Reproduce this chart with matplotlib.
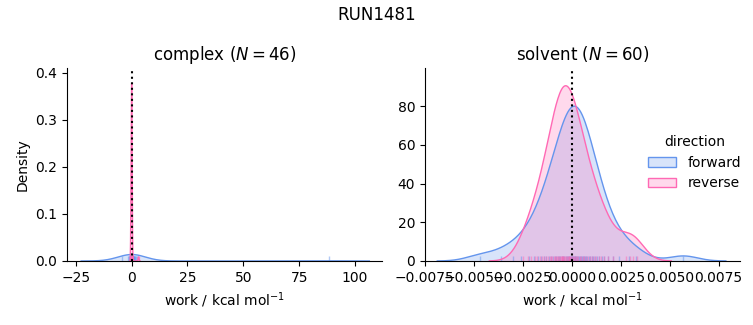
import numpy as np
import matplotlib.pyplot as plt

complex_forward = [-4.4, -1.6, -1.2, -1.0, -0.8, -0.7, -0.6, -0.5, -0.45, -0.4, -0.35, -0.3,
                   -0.25, -0.2, -0.15, -0.1, -0.08, -0.05, -0.02, 0.0, 0.02, 0.05, 0.08, 0.1,
                   0.12, 0.15, 0.18, 0.2, 0.25, 0.3, 0.35, 0.4, 0.45, 0.5, 0.55, 0.6, 0.7,
                   0.8, 0.9, 1.0, 1.2, 1.4, 1.7, 2.0, 2.5, 88.2]
complex_reverse = [-0.15, -0.13, -0.11, -0.1, -0.09, -0.08, -0.07, -0.06, -0.055, -0.045,
                   -0.04, -0.035, -0.03, -0.028, -0.022, -0.017, -0.015, -0.011, -0.006,
                   -0.005, 0.0, 0.0, 0.005, 0.006, 0.011, 0.012, 0.017, 0.022, 0.023, 0.028,
                   0.033, 0.035, 0.04, 0.045, 0.05, 0.055, 0.06, 0.066, 0.077, 0.083, 0.094,
                   0.105, 0.116, 0.13, 0.15, 3.1]

# solvent values in 1e-3 kcal/mol
solvent_forward = [-4.7, -3.6, -3.0, -2.6, -2.2, -1.95, -1.75, -1.58, -1.43, -1.3, -1.18,
                   -1.08, -0.98, -0.88, -0.8, -0.72, -0.65, -0.58, -0.51, -0.44, -0.38,
                   -0.32, -0.26, -0.2, -0.14, -0.09, -0.04, 0.0, 0.02, 0.06, 0.1, 0.14, 0.18,
                   0.22, 0.26, 0.31, 0.36, 0.41, 0.46, 0.51, 0.56, 0.62, 0.68, 0.74, 0.8,
                   0.87, 0.94, 1.01, 1.09, 1.18, 1.28, 1.39, 1.52, 1.67, 1.85, 2.1, 2.4, 2.9,
                   3.3, 5.7]
solvent_reverse = [-2.48, -2.25, -2.07, -1.89, -1.76, -1.62, -1.5, -1.4, -1.31, -1.22, -1.13,
                   -1.06, -0.99, -0.93, -0.86, -0.81, -0.76, -0.7, -0.66, -0.61, -0.57, -0.52,
                   -0.48, -0.45, -0.43, -0.39, -0.34, -0.3, -0.25, -0.21, -0.16, -0.12, -0.07,
                   -0.03, 0.02, 0.06, 0.12, 0.17, 0.23, 0.28, 0.34, 0.41, 0.48, 0.55, 0.63,
                   0.72, 0.81, 0.91, 1.02, 1.13, 1.24, 1.37, 1.5, 1.67, 1.85, 2.12, 2.75,
                   2.95, 3.15, 3.35]

phases = ['complex', 'solvent']
directions = ['forward', 'reverse']
colors = {'forward': 'cornflowerblue', 'reverse': 'hotpink'}

data = {
    'complex': {'forward': np.array(complex_forward), 'reverse': np.array(complex_reverse)},
    'solvent': {'forward': np.array(solvent_forward) * 1e-3,
                'reverse': np.array(solvent_reverse) * 1e-3},
}
# densities are normalised over every row of both panels (facet-wide common norm)
n_total = sum(len(v) for p in data.values() for v in p.values())


def kde(vals, gridsize=200, cut=3):
    bw = np.std(vals, ddof=1) * len(vals) ** (-1 / 5)
    grid = np.linspace(vals.min() - cut * bw, vals.max() + cut * bw, gridsize)
    dens = np.exp(-0.5 * ((grid[:, None] - vals[None, :]) / bw) ** 2).sum(1)
    dens /= len(vals) * bw * np.sqrt(2 * np.pi)
    return grid, dens * len(vals) / n_total


xlims = {'complex': (-28.9, 112.2), 'solvent': (-0.0075, 0.0086)}
ylims = {'complex': (0, 0.41), 'solvent': (0, 99.8)}

fig, axs = plt.subplots(1, 2, figsize=(7.53, 3.25), dpi=100)
plt.subplots_adjust(left=0.089, right=0.983, bottom=0.197, top=0.791, wspace=0.135)

for ax, phase in zip(axs, phases):
    for d in directions:
        x, y = kde(data[phase][d])
        ax.fill_between(x, y, facecolor=colors[d], alpha=0.25, lw=0)
        ax.plot(x, y, color=colors[d], lw=1)
        ax.vlines(data[phase][d], 0, 0.025, transform=ax.get_xaxis_transform(),
                  color=colors[d], alpha=0.5, lw=1)
    ax.axvline(0, color='k', ls=':', lw=1.5)
    ax.set_xlim(*xlims[phase])
    ax.set_ylim(*ylims[phase])
    n = len(data[phase]['forward'])
    ax.set_title(f'{phase} ($N={n}$)')
    ax.set_xlabel('work / kcal mol$^{-1}$')
    ax.spines['top'].set_visible(False)
    ax.spines['right'].set_visible(False)

axs[0].set_ylabel('Density')
axs[1].set_yticks([0, 20, 40, 60, 80])

handles = [plt.Rectangle((0, 0), 1, 1,
                         facecolor=(*plt.matplotlib.colors.to_rgb(colors[d]), 0.25),
                         edgecolor=colors[d])
           for d in directions]
axs[1].legend(handles, directions, title='direction', frameon=False,
              loc='center right', bbox_to_anchor=(1.042, 0.51))

fig.suptitle('RUN1481')
fig.savefig('out.png')
